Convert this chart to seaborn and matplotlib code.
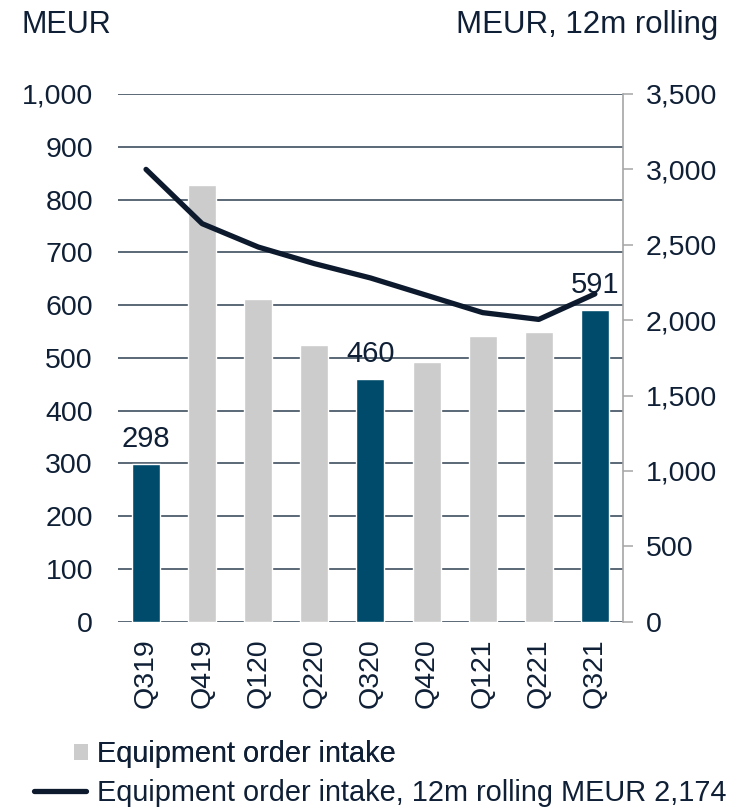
"""
Equipment order intake per quarter (bars, left axis) and 12m rolling
order intake (line, right axis).
"""

import matplotlib
matplotlib.use('Agg')
import matplotlib.pyplot as plt
from matplotlib.patches import Patch
from matplotlib.lines import Line2D
import pandas as pd
import seaborn as sns

# ── Data ──────────────────────────────────────────────────────────
quarters = ['Q319', 'Q419', 'Q120', 'Q220', 'Q320', 'Q420', 'Q121', 'Q221', 'Q321']
order_intake = [298, 828, 612, 525, 460, 492, 541, 549, 591]
rolling_12m = [3000, 2640, 2485, 2375, 2280, 2165, 2050, 2005, 2174]
highlighted = ['Q319', 'Q320', 'Q321']
left_ticks = list(range(0, 1001, 100))
right_ticks = list(range(0, 3501, 500))

# ── Style ─────────────────────────────────────────────────────────
NAVY_TXT = '#0f1f35'
DARK_BAR = '#004b6b'
GREY_BAR = '#cccccc'
LINE_COL = '#0d1a2e'
GRID_COL = '#2d3e50'

sns.set_style('white')
plt.rcParams['font.family'] = ['Liberation Sans', 'DejaVu Sans']
plt.rcParams['text.color'] = NAVY_TXT
plt.rcParams['xtick.color'] = NAVY_TXT
plt.rcParams['ytick.color'] = NAVY_TXT

df = pd.DataFrame({'quarter': quarters, 'intake': order_intake,
                   'rolling': rolling_12m})
df['pos'] = range(len(df))
palette = {q: (DARK_BAR if q in highlighted else GREY_BAR) for q in quarters}

fig = plt.figure(figsize=(7.36, 8.11), dpi=100)
ax = fig.add_axes([0.1603, 0.2334, 0.6861, 0.6507])

sns.barplot(data=df, x='quarter', y='intake', hue='quarter', palette=palette,
            width=0.5, dodge=False, legend=False, saturation=1, ax=ax)
ax.set_axisbelow(True)
ax.set_xlim(-0.5, len(quarters) - 0.5)
ax.set_ylim(0, 1000)
ax.set_yticks(left_ticks)
ax.set_yticklabels([f'{v:,}' for v in left_ticks])
ax.yaxis.grid(True, color=GRID_COL, linewidth=1.1)
ax.xaxis.grid(False)
for s in ax.spines.values():
    s.set_visible(False)
ax.tick_params(axis='y', length=0, pad=18, labelsize=20.5)
ax.tick_params(axis='x', length=0, pad=12, labelsize=20.5, rotation=90)
ax.set_xlabel('')
ax.set_ylabel('')

# value labels on the highlighted bars
for q, v, p in zip(quarters, order_intake, df['pos']):
    if q in highlighted:
        ax.annotate(f'{v}', (p, v), xytext=(0, 8), textcoords='offset points',
                    ha='center', va='bottom', fontsize=21, color=NAVY_TXT)

# ── Rolling line on the right axis ────────────────────────────────
ax2 = ax.twinx()
sns.lineplot(data=df, x='pos', y='rolling', color=LINE_COL, linewidth=3.8,
             ax=ax2, solid_joinstyle='round', solid_capstyle='round')
ax2.set_ylim(0, 3500)
ax2.set_yticks(right_ticks)
ax2.set_yticklabels([f'{v:,}' for v in right_ticks])
ax2.set_xlim(-0.5, len(quarters) - 0.5)
ax2.set_ylabel('')
ax2.set_xlabel('')
ax2.grid(False)
for side in ['top', 'left', 'bottom']:
    ax2.spines[side].set_visible(False)
ax2.spines['right'].set_color('#a6a6a6')
ax2.spines['right'].set_linewidth(1.2)
ax2.tick_params(axis='y', direction='out', length=7.2, width=1.1,
                color='#a6a6a6', pad=9, labelsize=20.5, labelcolor=NAVY_TXT)

# ── Axis titles ───────────────────────────────────────────────────
fig.text(21 / 736, 1 - 33 / 811, 'MEUR', fontsize=22, ha='left',
         va='baseline', color=NAVY_TXT)
fig.text(718 / 736, 1 - 33 / 811, 'MEUR, 12m rolling', fontsize=22.5,
         ha='right', va='baseline', color=NAVY_TXT)

# ── Legend (two rows, handles not aligned, as in the original) ────
leg1 = fig.legend(handles=[Patch(facecolor=GREY_BAR, edgecolor='none',
                                 label='Equipment order intake')],
                  loc='center left', bbox_to_anchor=(74 / 736, 1 - 754 / 811),
                  frameon=False, fontsize=20.8, handlelength=0.48,
                  handleheight=0.48, handletextpad=0.31, borderpad=0,
                  borderaxespad=0, labelcolor=NAVY_TXT)
fig.add_artist(leg1)
fig.legend(handles=[Line2D([], [], color=LINE_COL, linewidth=3.8,
                           label='Equipment order intake, 12m rolling MEUR 2,174')],
           loc='center left', bbox_to_anchor=(34 / 736, 1 - 793 / 811),
           frameon=False, fontsize=20.8, handlelength=1.8,
           handletextpad=0.38, borderpad=0, borderaxespad=0,
           labelcolor=NAVY_TXT)

plt.savefig('out.png', dpi=100)
